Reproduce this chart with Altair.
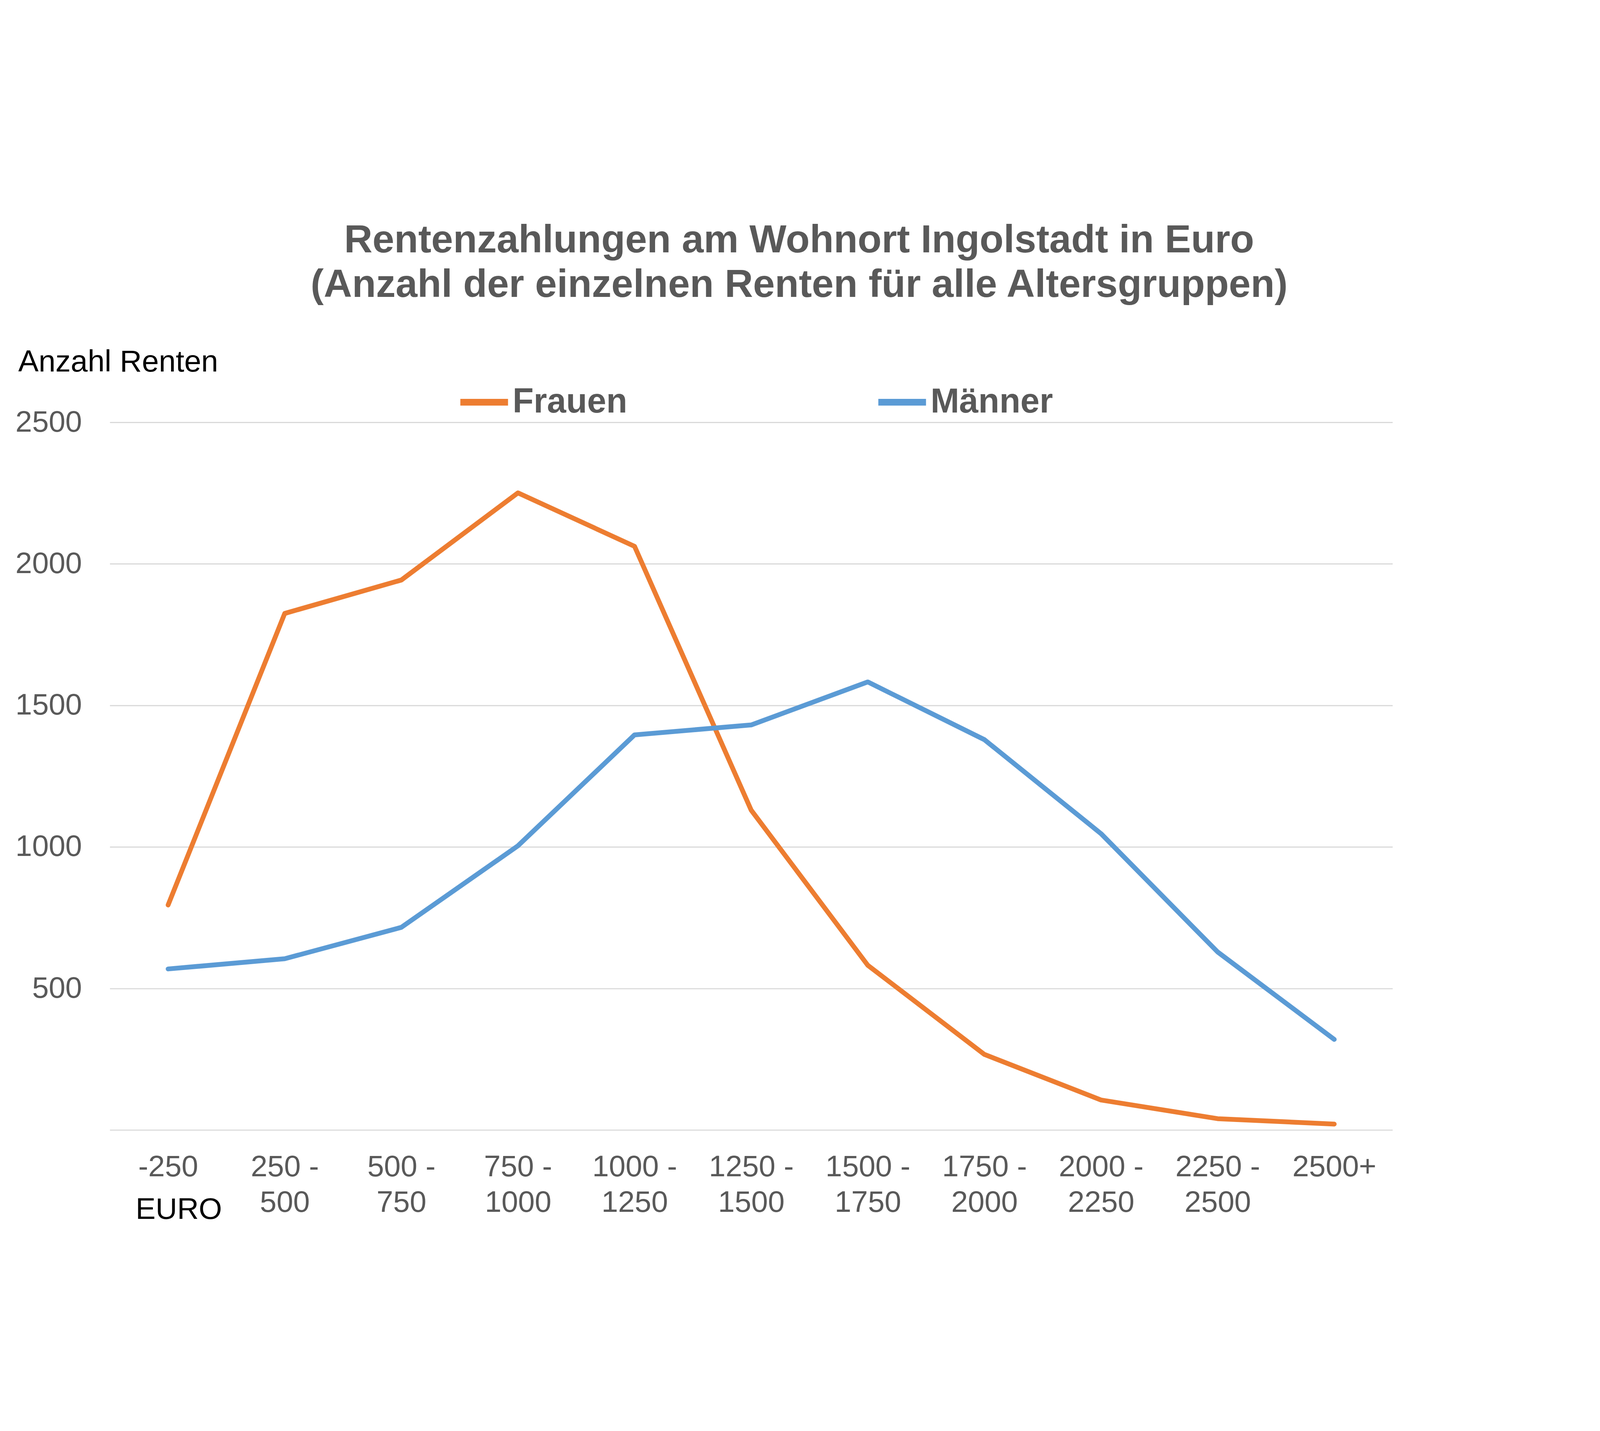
import altair as alt
import pandas as pd

categories = ["-250", "250 - 500", "500 - 750", "750 - 1000", "1000 - 1250",
              "1250 - 1500", "1500 - 1750", "1750 - 2000", "2000 - 2250",
              "2250 - 2500", "2500+"]
frauen = [795, 1825, 1943, 2251, 2062, 1130, 582, 267, 106, 40, 21]
maenner = [569, 605, 716, 1004, 1396, 1431, 1583, 1379, 1047, 629, 320]
series_names = ["Frauen", "Männer"]
series_colors = ["#ED7D31", "#5B9BD5"]
y_ticks = [0, 500, 1000, 1500, 2000, 2500]
title_lines = ["Rentenzahlungen am Wohnort Ingolstadt in Euro",
               "(Anzahl der einzelnen Renten für alle Altersgruppen)"]

rows = []
for c, f, m in zip(categories, frauen, maenner):
    rows.append({"cat": c, "series": "Frauen", "value": f})
    rows.append({"cat": c, "series": "Männer", "value": m})
df = pd.DataFrame(rows)

FONT = "Liberation Sans"

chart = alt.Chart(df).mark_line(
    strokeWidth=17, strokeCap="round", strokeJoin="round"
).encode(
    x=alt.X("cat:N", sort=categories,
            scale=alt.Scale(type="point", padding=0.5),
            axis=alt.Axis(
                title="EURO", labelAngle=0, domain=False, ticks=False, grid=False,
                labelExpr="split(replace(datum.label, ' - ', ' -|'), '|')",
                labelPadding=80, labelFontSize=106, labelColor="#595959",
                labelFont=FONT, labelLineHeight=126, labelOverlap=False,
                labelBound=False, labelFlush=False, labelLimit=2000,
                titleFont=FONT, titleFontSize=106, titleColor="black",
                titleFontWeight="normal", titleX=244, titleY=315,
                titleAlign="center", titleBaseline="alphabetic")),
    y=alt.Y("value:Q", scale=alt.Scale(domain=[0, 2500]),
            axis=alt.Axis(
                title="Anzahl Renten", values=y_ticks, format="d",
                labelExpr="datum.value == 0 ? '' : datum.label",
                domain=False, ticks=False, grid=True, gridColor="#d9d9d9",
                gridWidth=4, labelPadding=99, labelFontSize=106,
                labelColor="#595959", labelFont=FONT, labelLimit=2000,
                titleFont=FONT, titleFontSize=108, titleColor="black",
                titleFontWeight="normal", titleAngle=0, titleAlign="left",
                titleBaseline="alphabetic", titleX=-325, titleY=-181,
                titleLimit=3000)),
    color=alt.Color("series:N",
                    scale=alt.Scale(domain=series_names, range=series_colors),
                    legend=alt.Legend(
                        title=None, orient="none", direction="horizontal",
                        legendX=1230, legendY=-168, padding=0,
                        symbolType="stroke", symbolSize=28561,
                        symbolStrokeWidth=24, labelOffset=4,
                        columnPadding=841, labelFont=FONT,
                        labelFontSize=122, labelFontWeight="bold",
                        labelColor="#595959", labelLimit=1000)),
).properties(
    width=4545, height=2507,
    title=alt.TitleParams(
        text=title_lines, font=FONT, fontSize=139, fontWeight="bold",
        color="#595959", lineHeight=159, anchor="middle", frame="group",
        dx=170, offset=148),
    padding={"left": 378, "top": 785, "right": 724, "bottom": 355},
    autosize="none",
    background="white",
).configure_view(stroke=None)

chart.save("out.html", embed_options={"renderer": "svg", "actions": False})
